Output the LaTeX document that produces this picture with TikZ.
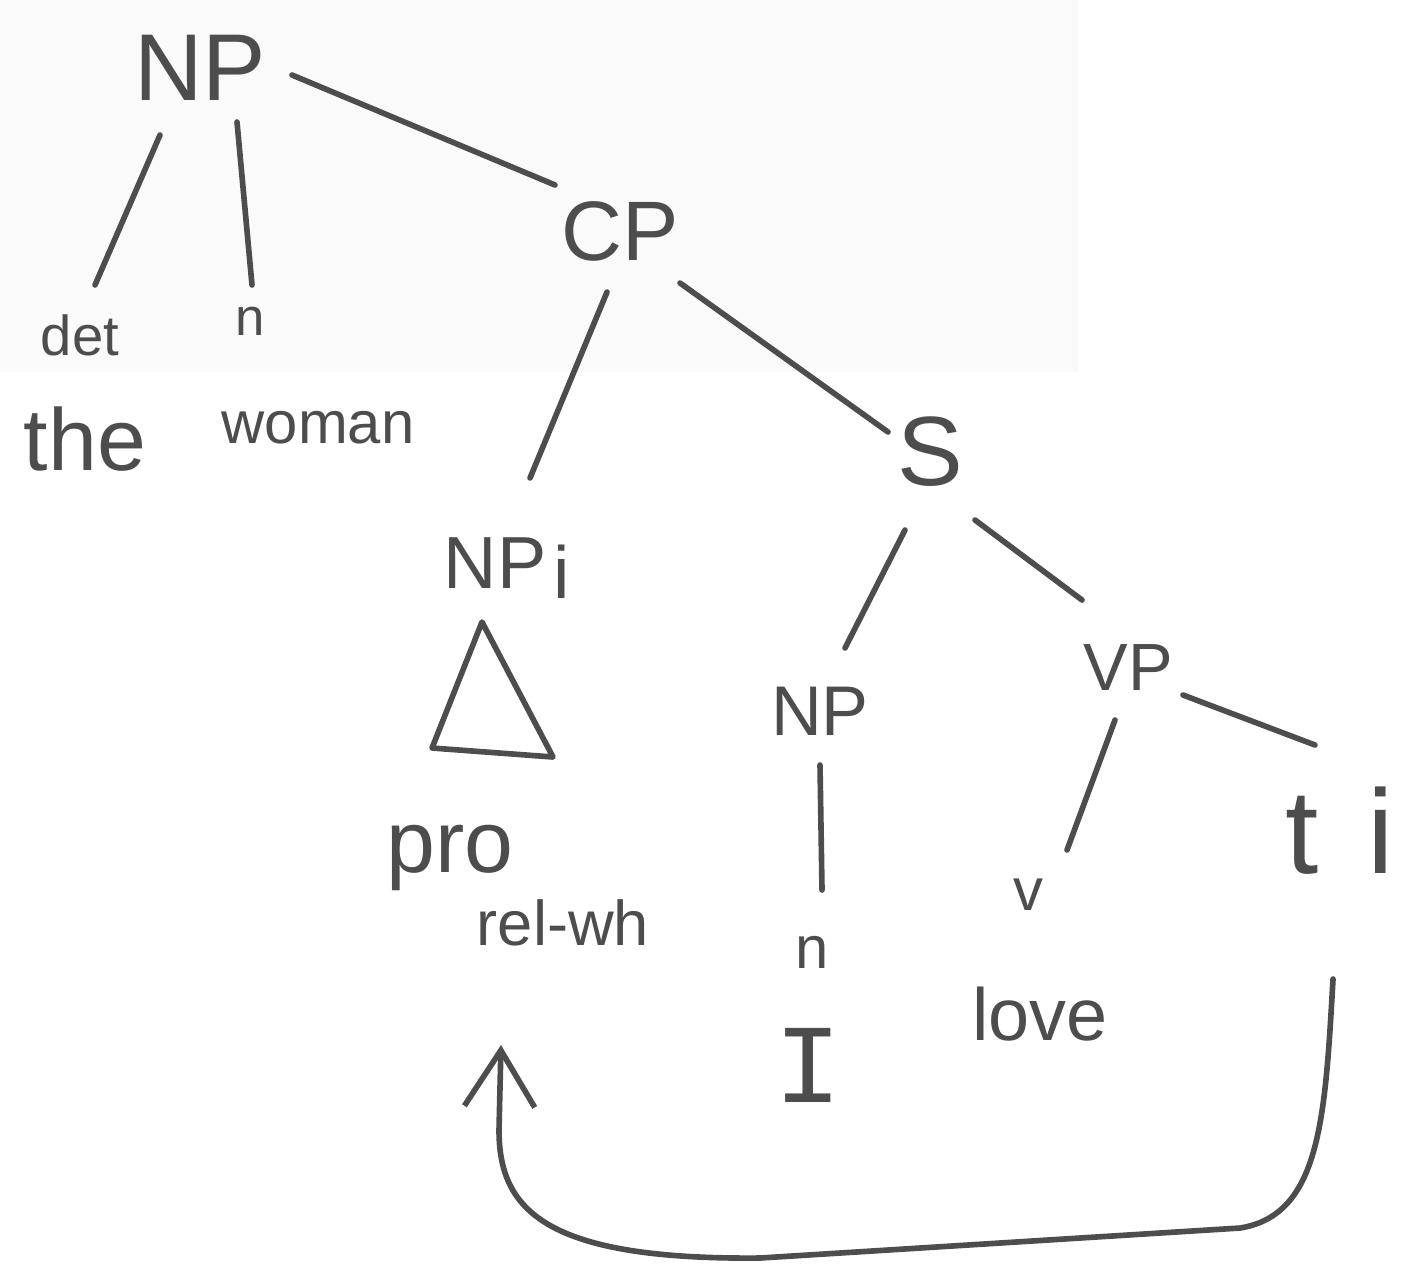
\documentclass[tikz,border=0pt]{standalone}
\usepackage{fontspec}
\setmainfont{Liberation Sans}
\newfontfamily\monoI{Liberation Mono}
\usetikzlibrary{calc,arrows.meta}
\definecolor{inkc}{HTML}{4D4D4D}
\definecolor{paper}{HTML}{FAFAFA}
\newcommand\fsz[1]{\fontsize{#1}{#1}\selectfont}

\begin{document}
\begin{tikzpicture}[x=0.01cm,y=-0.01cm,
  ink/.style={draw=inkc,line width=1.6pt,line cap=round,line join=round},
  lbl/.style={text=inkc,anchor=base,inner sep=0pt,outer sep=0pt}]
\useasboundingbox (0,0) rectangle (1401,1269);
\fill[paper] (0,0) rectangle (1078,372);

% tree labels (placed at their baselines)
\node[lbl,font=\fsz{27}] (np)    at (200,100)  {NP};
\node[lbl,font=\fsz{24}] (cp)    at (620,260)  {CP};
\node[lbl,font=\fsz{16}] (det)   at (80,355)   {det};
\node[lbl,font=\fsz{15}] (nw)    at (250,335)  {n};
\node[lbl,font=\fsz{25}] (the)   at (85,470)   {the};
\node[lbl,font=\fsz{17}] (woman) at (318,443)  {woman};
\node[lbl,font=\fsz{28}] (s)     at (930,485)  {S};
\node[lbl,font=\fsz{21}] (npi)   at (507,588)  {NP\kern2pt\raisebox{-3pt}{i}};
\node[lbl,font=\fsz{25}] (pro)   at (450,872)  {pro};
\node[lbl,font=\fsz{18}] (relwh) at (563,945)  {rel-wh};
\node[lbl,font=\fsz{20}] (npb)   at (820,735)  {NP};
\node[lbl,font=\fsz{19}] (vp)    at (1128,690) {VP};
\node[lbl,font=\fsz{17}] (nb)    at (812,968)  {n};
\node[lbl,font=\monoI\fsz{32}] (pron) at (808,1102) {I};
\node[lbl,font=\fsz{17}] (v)     at (1028,910) {v};
\node[lbl,font=\fsz{21}] (love)  at (1040,1040) {love};
\node[lbl,font=\fsz{34}] (ti)    at (1340,873) {t\kern14pt i};

% branches
\draw[ink] ($(np.base)+(-40,35)$)  -- ($(det.base)+(15,-70)$);
\draw[ink] ($(np.base)+(37,22)$)   -- ($(nw.base)+(2,-50)$);
\draw[ink] ($(np.base)+(92,-25)$)  -- ($(cp.base)+(-65,-75)$);
\draw[ink] ($(cp.base)+(-13,32)$)  -- ($(npi.base)+(23,-110)$);
\draw[ink] ($(cp.base)+(60,23)$)   -- ($(s.base)+(-42,-53)$);
\draw[ink] ($(s.base)+(-25,45)$)   -- ($(npb.base)+(25,-87)$);
\draw[ink] ($(s.base)+(45,35)$)    -- ($(vp.base)+(-46,-90)$);
\draw[ink] ($(vp.base)+(-13,30)$)  -- ($(v.base)+(39,-60)$);
\draw[ink] ($(vp.base)+(55,5)$)    -- ($(ti.base)+(-25,-128)$);
\draw[ink] ($(npb.base)+(0,30)$)   -- ($(nb.base)+(10,-78)$);

% roof over the relative pronoun
\draw[ink] (482,622) -- (432,748) -- (553,757) -- cycle;

% movement arrow from the trace back to the pronoun
\coordinate (landing) at (501,1045);
\draw[ink,-{Straight Barb[length=16pt,width=20pt,line width=1.6pt]}]
  ($(ti.base)+(-7,106)$) .. controls (1325,1120) and (1320,1215) .. (1240,1228)
  -- (760,1258) .. controls (545,1260) and (499,1210) .. (499,1130)
  -- (landing);
\end{tikzpicture}
\end{document}
